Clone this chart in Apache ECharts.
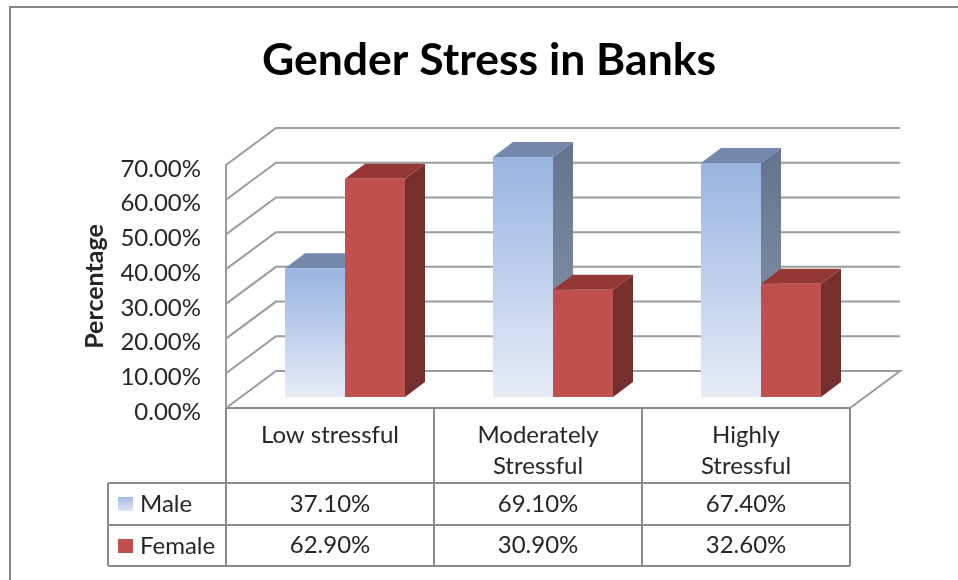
<!DOCTYPE html>
<html><head><meta charset="utf-8">
<script src="https://cdn.jsdelivr.net/npm/echarts@6/dist/echarts.min.js"></script>
<style>html,body{margin:0;padding:0;background:#fff}#c{width:958px;height:580px}</style>
</head><body><div id="c"></div>
<script>
const categories = ['Low stressful', 'Moderately\nStressful', 'Highly\nStressful'];
const maleValues = [37.1, 69.1, 67.4];
const femaleValues = [62.9, 30.9, 32.6];
const yTicks = [0, 10, 20, 30, 40, 50, 60, 70];

const FONT = 'Lato';
const TEXT = '#262626';
const LINE = '#8b8b8b';
const GRIDLINE = '#9c9c9c';
const WALL_DX = 50, WALL_DY = 37;     // floor depth
const BAR_IN_DX = 15, BAR_IN_DY = 11; // bar inset from the front edge
const BAR_DX = 20, BAR_DY = 15;       // bar depth
const BAR_FRACTION = 60 / 208;

const grad = (a, b) => new echarts.graphic.LinearGradient(0, 0, 0, 1, [{offset: 0, color: a}, {offset: 1, color: b}]);
const styles = {
  Male:   {front: ['#98b4e2', '#e6ecf7'], top: '#7488ab', side: ['#64748f', '#8a99ab']},
  Female: {front: ['#c0504d', '#c0504d'], top: '#943735', side: ['#772f2d', '#772f2d']}
};

function wallItem(params, api) {
  const v = api.value(1);
  const cs = params.coordSys;
  const y = api.coord([0, v])[1];
  const left = cs.x, right = cs.x + cs.width;
  const pts = [[left, y], [left + WALL_DX, y - WALL_DY], [right + WALL_DX, y - WALL_DY]];
  if (v === 0) pts.push([right, y]);
  return {type: 'polyline', shape: {points: pts}, style: {stroke: GRIDLINE, lineWidth: 2, fill: null}};
}

function barItem(name, sign) {
  return function (params, api) {
    const cat = api.value(0), val = api.value(1);
    const base = api.coord([cat, 0]);
    const top = api.coord([cat, val]);
    const w = api.size([1, 0])[0] * BAR_FRACTION;
    const cx = base[0] + BAR_IN_DX;
    const x0 = sign < 0 ? cx - w : cx, x1 = x0 + w;
    const y0 = top[1] - BAR_IN_DY, y1 = base[1] - BAR_IN_DY;
    const s = styles[name];
    const poly = (pts, fill) => ({type: 'polygon', shape: {points: pts}, style: {fill: fill}});
    return {type: 'group', children: [
      poly([[x1, y0], [x1 + BAR_DX, y0 - BAR_DY], [x1 + BAR_DX, y1 - BAR_DY], [x1, y1]], grad(s.side[0], s.side[1])),
      poly([[x0, y0], [x0 + BAR_DX, y0 - BAR_DY], [x1 + BAR_DX, y0 - BAR_DY], [x1, y0]], s.top),
      {type: 'rect', shape: {x: x0, y: y0, width: w, height: y1 - y0}, style: {fill: grad(s.front[0], s.front[1])}}
    ]};
  };
}

const chart = echarts.init(document.getElementById('c'), null, {renderer: 'canvas'});

const tableLeft = 108, tableX = [226, 434, 642, 850], headTop = 408, rows = [483, 525, 566];
const seg = (x1, y1, x2, y2) => ({type: 'line', shape: {x1, y1, x2, y2}, style: {stroke: LINE, lineWidth: 2}, z: 5});
const graphics = [
  {type: 'polyline', shape: {points: [[10, 580], [10, 7], [958, 7]]}, style: {stroke: '#868686', lineWidth: 2, fill: null}},
  ...tableX.map(x => seg(x, headTop, x, rows[2])),
  ...rows.map(y => seg(tableLeft, y, tableX[3], y)),
  seg(tableLeft, rows[0], tableLeft, rows[2])
];
const cellText = (t, i, y) => ({
  type: 'text', x: (tableX[i] + tableX[i + 1]) / 2, y: y,
  style: {text: t, font: '24px ' + FONT, fill: TEXT, align: 'center', verticalAlign: 'middle'}, z: 6
});
maleValues.forEach((v, i) => graphics.push(cellText(v.toFixed(2) + '%', i, 504)));
femaleValues.forEach((v, i) => graphics.push(cellText(v.toFixed(2) + '%', i, 545)));

chart.setOption({
  animation: false,
  backgroundColor: '#fff',
  title: {
    text: 'Gender Stress in Banks', left: 484, top: 33, textAlign: 'center',
    textStyle: {fontFamily: FONT, fontWeight: 'bold', fontSize: 44.5, color: '#000'}
  },
  grid: {left: 226, right: 108, top: 165, bottom: 172},
  legend: {
    orient: 'vertical', left: 118, top: 492, padding: 0, itemWidth: 15, itemHeight: 14, itemGap: 18,
    selectedMode: false, icon: 'rect',
    textStyle: {fontFamily: FONT, fontSize: 24, lineHeight: 14, color: TEXT, padding: [0, 0, 0, 2]},
    data: [
      {name: 'Male', itemStyle: {color: grad('#a3bbe4', '#dfe6f4')}},
      {name: 'Female', itemStyle: {color: '#c0504d'}}
    ]
  },
  xAxis: {
    type: 'category', data: categories,
    axisLine: {show: true, lineStyle: {color: LINE, width: 2}},
    axisTick: {show: false},
    axisLabel: {interval: 0, margin: 12, lineHeight: 31, fontFamily: FONT, fontSize: 24, color: TEXT, verticalAlign: 'top'}
  },
  yAxis: {
    type: 'value', min: 0, max: 70, interval: 10,
    name: 'Percentage', nameLocation: 'middle', nameGap: 119, nameRotate: 90,
    nameTextStyle: {fontFamily: FONT, fontWeight: 'bold', fontSize: 25, color: TEXT},
    axisLine: {show: true, lineStyle: {color: GRIDLINE, width: 2}},
    axisTick: {show: false},
    splitLine: {show: false},
    axisLabel: {margin: 25, fontFamily: FONT, fontSize: 24, color: TEXT, verticalAlign: 'top', lineHeight: 8, formatter: v => v.toFixed(2) + '%'}
  },
  series: [
    {type: 'custom', name: 'walls', silent: true, clip: false, z: 1,
     data: yTicks.map(t => [0, t]), encode: {x: 0, y: 1}, renderItem: wallItem},
    {type: 'custom', name: 'Male', clip: false, z: 2,
     itemStyle: {color: '#98b4e2'},
     data: maleValues.map((v, i) => [i, v]), encode: {x: 0, y: 1}, renderItem: barItem('Male', -1)},
    {type: 'custom', name: 'Female', clip: false, z: 3,
     itemStyle: {color: '#c0504d'},
     data: femaleValues.map((v, i) => [i, v]), encode: {x: 0, y: 1}, renderItem: barItem('Female', 1)}
  ],
  graphic: graphics
});
</script></body></html>
